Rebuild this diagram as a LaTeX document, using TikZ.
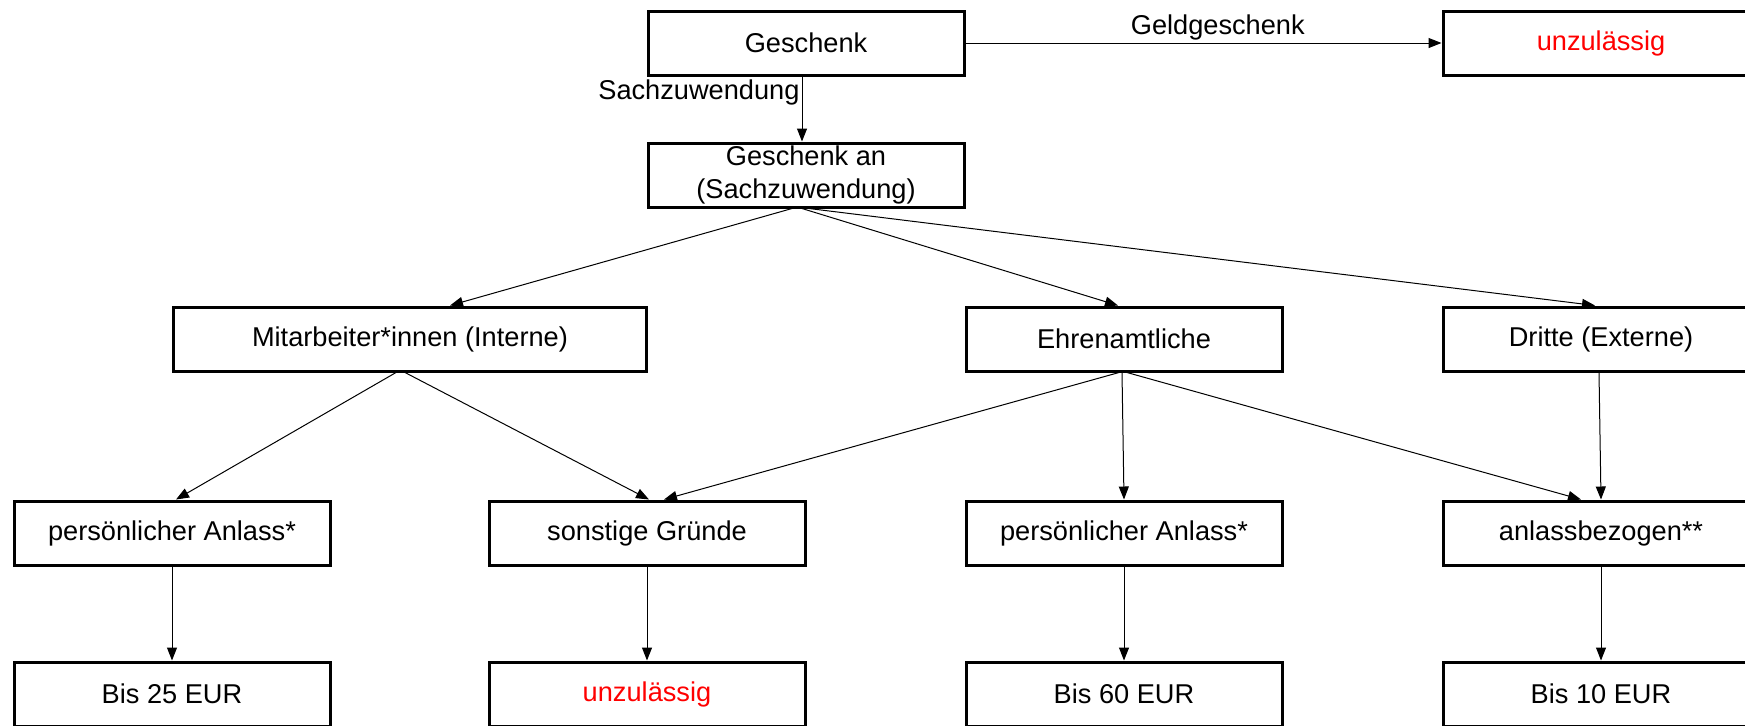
\documentclass[tikz,border=0pt]{standalone}
\usepackage{fontspec}
\setmainfont{Liberation Sans}
\usetikzlibrary{arrows.meta}
\definecolor{verbotrot}{rgb}{1,0,0}

\begin{document}
\begin{tikzpicture}[x=0.5pt, y=-0.5pt,
    box/.style={draw, line width=1.5pt, minimum width=158pt, minimum height=32pt, inner sep=0pt, align=center, font=\fontsize{13.6}{16.5}\selectfont},
    arr/.style={line width=0.5pt, -{Triangle[length=6.5pt, width=5pt]}},
    lbl/.style={inner sep=1pt, font=\fontsize{13.6}{16.5}\selectfont}]

    % Rahmen (rechts und unten abgeschnitten)
    \useasboundingbox (0,0) rectangle (1745,725);
    \clip (0,0) rectangle (1745,725);

    % Ebene 0 und 1
    \node[box] (gesch) at (806,43) {Geschenk};
    \node[box, text=verbotrot] (unzTop) at (1601,43) {unzulässig};
    \node[box] (gan) at (806,175) {Geschenk an\\(Sachzuwendung)};

    % Empfaenger
    \node[box, minimum width=236.5pt] (mitarb) at (410,339) {Mitarbeiter*innen (Interne)};
    \node[box] (ehren) at (1124,339) {Ehrenamtliche};
    \node[box] (dritte) at (1601,339) {Dritte (Externe)};

    % Anlass
    \node[box] (pa1) at (172,533) {persönlicher Anlass*};
    \node[box] (sg) at (647,533) {sonstige Gründe};
    \node[box] (pa2) at (1124,533) {persönlicher Anlass*};
    \node[box] (anl) at (1601,533) {anlassbezogen**};

    % Grenzen
    \node[box] (b25) at (172,694) {Bis 25 EUR};
    \node[box, text=verbotrot] (unz) at (647,694) {unzulässig};
    \node[box] (b60) at (1124,694) {Bis 60 EUR};
    \node[box] (b10) at (1601,694) {Bis 10 EUR};

    % Pfeile oben
    \draw[arr] (gesch) -- node[lbl, above, pos=0.53] {Geldgeschenk} (unzTop);
    \draw[arr] ([xshift=-2pt]gesch.south) -- node[lbl, left, pos=0.24] {Sachzuwendung} ([xshift=-2pt]gan.north);

    % Geschenk an -> Empfaenger
    \draw[arr] ([xshift=-7pt]gan.south) -- ([xshift=20pt]mitarb.north);
    \draw[arr] ([xshift=-2pt]gan.south) -- ([xshift=-3pt]ehren.north);
    \draw[arr] ([xshift=1.5pt]gan.south) -- ([xshift=-3pt]dritte.north);

    % Empfaenger -> Anlass
    \draw[arr] ([xshift=-7pt]mitarb.south) -- ([xshift=2pt]pa1.north);
    \draw[arr] ([xshift=-2.5pt]mitarb.south) -- ([xshift=1pt]sg.north);
    \draw[arr] ([xshift=-2.5pt]ehren.south) -- ([xshift=8.5pt]sg.north);
    \draw[arr] ([xshift=-1pt]ehren.south) -- (pa2.north);
    \draw[arr] ([xshift=1.5pt]ehren.south) -- ([xshift=-10pt]anl.north);
    \draw[arr] ([xshift=-1pt]dritte.south) -- (anl.north);

    % Anlass -> Grenze
    \foreach \a/\b in {pa1/b25, sg/unz, pa2/b60, anl/b10} {
        \draw[arr] (\a) -- (\b);
    }

\end{tikzpicture}
\end{document}
